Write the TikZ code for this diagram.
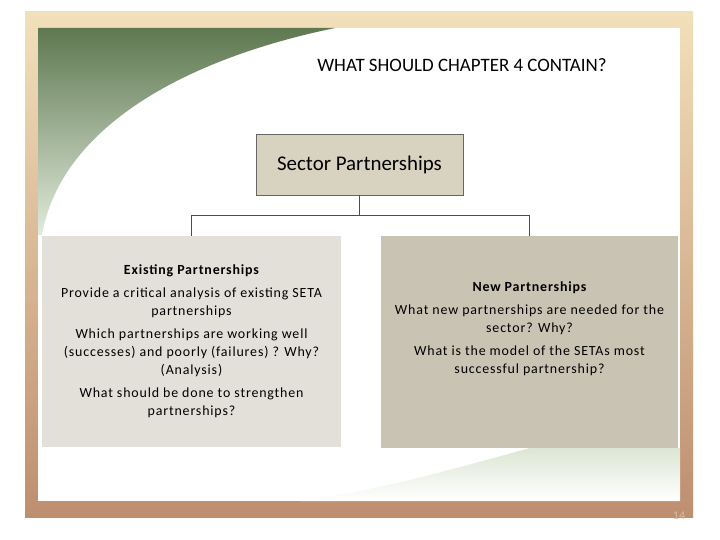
\documentclass[tikz,border=0pt]{standalone}
\usepackage{fontspec}
\setmainfont{Carlito}
\newfontfamily\spaced[LetterSpace=6]{Carlito}
\begin{document}
\begin{tikzpicture}[x=1bp,y=-1bp,
  boxtxt/.style={align=center,font=\spaced\fontsize{14}{18}\selectfont},
  conn/.style={draw=black!70,line width=0.6bp}]
\useasboundingbox (0,0) rectangle (720,540);
\fill[white] (0,0) rectangle (720,540);
\shade[top color={rgb,255:red,242;green,224;blue,186},bottom color={rgb,255:red,190;green,142;blue,112}] (25,12) rectangle (693,517);
\fill[white] (38,28) rectangle (680,501);
\shade[top color={rgb,255:red,94;green,120;blue,80},middle color={rgb,255:red,120;green,160;blue,110},bottom color={rgb,255:red,225;green,235;blue,220}] (38,28) -- (335,28) .. controls (180,60) and (60,130) .. (42,235) -- (38,235) -- cycle;
\shade[top color={rgb,255:red,220;green,230;blue,212},bottom color=white] (680,448) -- (530,448) .. controls (450,470) and (380,490) .. (300,501) -- (680,501) -- cycle;
\node (title) at (462,65) {\fontsize{19}{22}\selectfont WHAT SHOULD CHAPTER 4 CONTAIN?};
\node[draw=black!60,fill={rgb,255:red,216;green,210;blue,192},minimum width=207bp,minimum height=61bp,font=\fontsize{21}{24}\selectfont] (sector) at (359.5,164.5) {Sector Partnerships};
\node[fill={rgb,255:red,227;green,224;blue,218},minimum width=299bp,minimum height=211bp] (left) at (191.5,341.5) {};
\node[fill={rgb,255:red,201;green,195;blue,179},minimum width=297bp,minimum height=212bp] (right) at (529.5,342) {};
\coordinate (mid) at (359.5,215);
\coordinate (lt) at (191.5,215);
\coordinate (rt) at (529.5,215);
\draw[conn] (sector.south) -- (mid);
\draw[conn] (left.north) -- (lt) -- (rt) -- (right.north);
\node[boxtxt] (ltxt) at (191.5,341) {\bfseries Existing Partnerships\\[5bp]Provide a critical analysis of existing SETA\\partnerships\\[5bp]Which partnerships are working well\\(successes) and poorly (failures) ? Why?\\(Analysis)\\[5bp]What should be done to strengthen\\partnerships?};
\node[boxtxt] (rtxt) at (529.5,329) {\bfseries New Partnerships\\[5bp]What new partnerships are needed for the\\sector? Why?\\[5bp]What is the model of the SETAs most\\successful partnership?};
\node[text={rgb,255:red,215;green,185;blue,160},font=\fontsize{12}{14}\selectfont] (pg) at (679,516) {14};
\end{tikzpicture}
\end{document}
